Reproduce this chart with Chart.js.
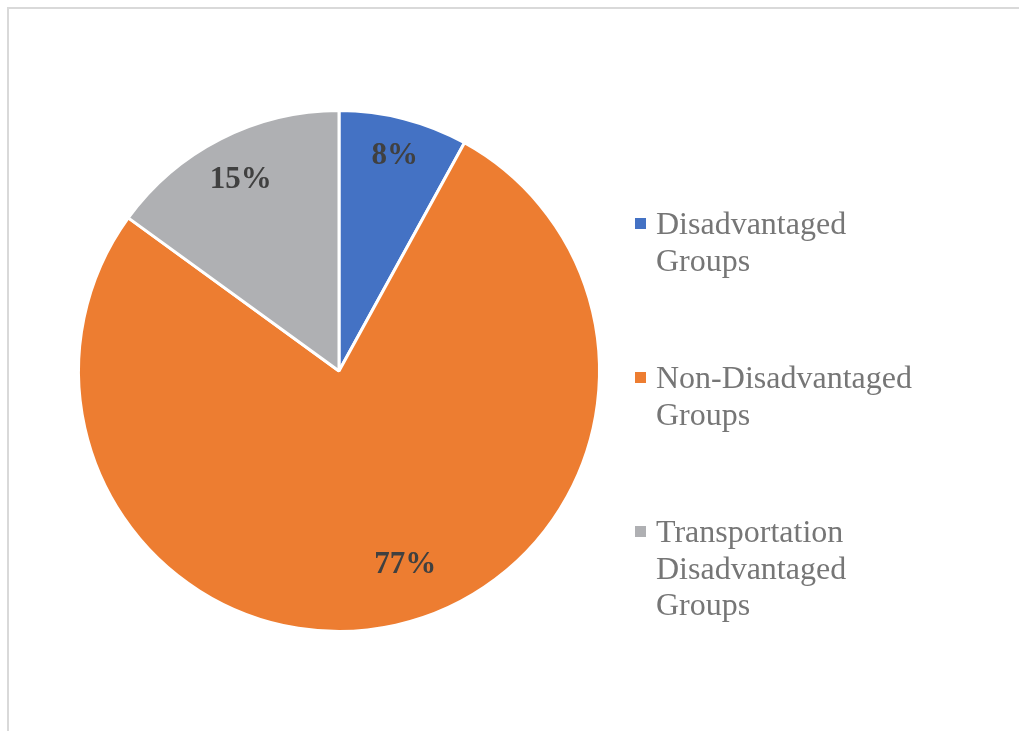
<!DOCTYPE html>
<html>
<head>
<meta charset="utf-8">
<script src="https://cdn.jsdelivr.net/npm/chart.js@4/dist/chart.umd.min.js"></script>
<style>
    html, body { margin: 0; padding: 0; background: #fff; }
    #marco {
        position: absolute; left: 0; top: 0; width: 1019px; height: 731px; overflow: hidden;
    }
    #borde {
        position: absolute; left: 7px; top: 7px; width: 1030px; height: 740px;
        border: 2px solid #d9d9d9; box-sizing: border-box;
    }
    #grafica { position: absolute; left: 0; top: 0; }
</style>
</head>
<body>
<div id="marco">
    <div id="borde"></div>
    <canvas id="grafica" width="1019" height="731"></canvas>
</div>
<script>
// datos de la grafica
const categorias = [
    ['Disadvantaged', 'Groups'],
    ['Non-Disadvantaged', 'Groups'],
    ['Transportation', 'Disadvantaged', 'Groups']
];
const porcentajes = [8, 77, 15];
const colores = ['#4472c4', '#ed7d31', '#afb0b3'];

// ajuste de posicion de cada etiqueta (fraccion del radio, giro en grados)
const etiquetaRadio = [0.86, 0.78, 0.83];
const etiquetaGiro = [0, -6.4, 0];

// etiquetas de porcentaje dentro de cada rebanada
const pluginEtiquetas = {
    id: 'etiquetas',
    afterDatasetsDraw(chart) {
        const ctx = chart.ctx;
        const arcos = chart.getDatasetMeta(0).data;
        const total = porcentajes.reduce((a, b) => a + b, 0);
        ctx.save();
        ctx.font = 'bold 31px "Liberation Serif", "Times New Roman", serif';
        ctx.fillStyle = '#404040';
        ctx.textAlign = 'center';
        ctx.textBaseline = 'middle';
        arcos.forEach((arco, i) => {
            const { x, y, startAngle, endAngle, outerRadius } = arco.getProps(['x', 'y', 'startAngle', 'endAngle', 'outerRadius'], true);
            const medio = (startAngle + endAngle) / 2 + etiquetaGiro[i] * Math.PI / 180;
            const r = outerRadius * etiquetaRadio[i];
            const texto = Math.round(porcentajes[i] / total * 100) + '%';
            // +2 para centrar visualmente los digitos
            ctx.fillText(texto, x + Math.cos(medio) * r, y + Math.sin(medio) * r + 2);
        });
        ctx.restore();
    }
};

// leyenda a la derecha con texto en varias lineas
const pluginLeyenda = {
    id: 'leyendaDerecha',
    afterDraw(chart, args, opts) {
        const ctx = chart.ctx;
        ctx.save();
        ctx.font = '32px "Liberation Serif", "Times New Roman", serif';
        ctx.textBaseline = 'middle';
        ctx.textAlign = 'left';
        chart.data.labels.forEach((lineas, i) => {
            const y0 = opts.top + i * opts.paso;
            ctx.fillStyle = chart.data.datasets[0].backgroundColor[i];
            ctx.fillRect(opts.x, y0 - 6, 11, 11);
            ctx.fillStyle = '#767676';
            lineas.forEach((linea, j) => {
                ctx.fillText(linea, opts.x + 21, y0 + 2 + j * opts.interlinea);
            });
        });
        ctx.restore();
    }
};

document.addEventListener('DOMContentLoaded', () => {
    const canvas = document.getElementById('grafica');
    new Chart(canvas, {
        type: 'pie',
        data: {
            labels: categorias,
            datasets: [{
                data: porcentajes,
                backgroundColor: colores,
                borderColor: '#ffffff',
                borderWidth: 3,
                hoverBorderWidth: 3
            }]
        },
        options: {
            responsive: false,
            animation: false,
            layout: { padding: { left: 77, top: 109, right: 418, bottom: 98 } },
            plugins: {
                legend: { display: false },
                tooltip: { enabled: false },
                leyendaDerecha: { x: 635, top: 224, paso: 154, interlinea: 36.5 }
            }
        },
        plugins: [pluginEtiquetas, pluginLeyenda]
    });
});
</script>
</body>
</html>
